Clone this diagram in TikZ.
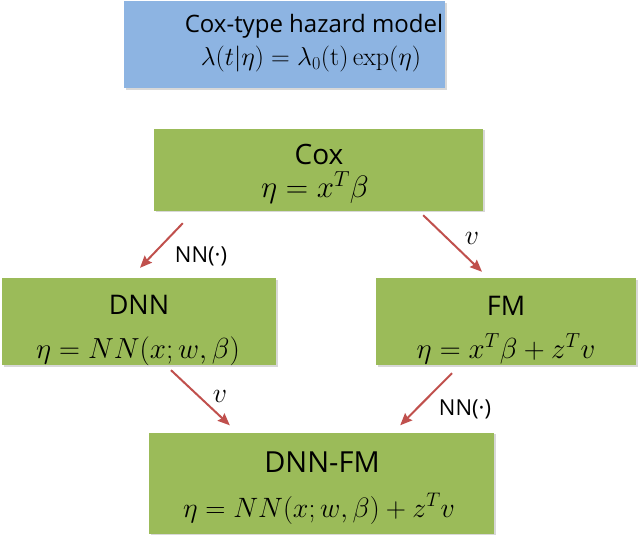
\RequirePackage{fix-cm}
\documentclass[tikz,border=0pt]{standalone}
\usepackage[no-math]{fontspec}
\setmainfont{Open Sans}
\usetikzlibrary{arrows.meta,calc,shadows}
\definecolor{boxblue}{HTML}{8DB4E2}
\definecolor{boxgreen}{HTML}{9BBB59}
\definecolor{arrred}{HTML}{C0504D}
\tikzset{
  box/.style={rectangle, inner sep=0pt,
    drop shadow={shadow xshift=1.5pt, shadow yshift=-1.5pt, fill=black!30, opacity=0.5}},
  bluebox/.style={box, fill=boxblue},
  greenbox/.style={box, fill=boxgreen},
  txt/.style={inner sep=0pt, anchor=base, text=black},
  arr/.style={draw=arrred, line width=2pt, -{Stealth[length=12pt,width=10pt,inset=1.5pt]}},
}
\begin{document}
\begin{tikzpicture}[x=1pt,y=-1pt]
\useasboundingbox (0,0) rectangle (640,540);
% boxes
\node[bluebox, minimum width=321pt, minimum height=87pt] (top) at (284.5,45) {};
\node[greenbox, minimum width=329pt, minimum height=82pt] (cox) at (318.5,170) {};
\node[greenbox, minimum width=274pt, minimum height=87pt] (dnn) at (139,321.5) {};
\node[greenbox, minimum width=260pt, minimum height=87pt] (fm) at (506,321.5) {};
\node[greenbox, minimum width=345pt, minimum height=101pt] (dnnfm) at (321.5,483) {};
% texts
\node[txt, font=\fontsize{24}{28}\selectfont] (toptitle) at (314,33) {Cox-type hazard model};
\node[txt, font=\fontsize{26}{30}\selectfont] (topformula) at (311,66) {$\lambda(t|\eta)=\lambda_0(\mathrm{t})\exp(\eta)$};
\node[txt, font=\fontsize{28}{32}\selectfont] (coxtitle) at (319,165) {Cox};
\node[txt, font=\fontsize{31}{35}\selectfont] (coxformula) at (315,198) {$\eta=x^T\beta$};
\node[txt, font=\fontsize{27}{32}\selectfont] (dnntitle) at (139,314) {DNN};
\node[txt, font=\fontsize{29}{34}\selectfont] (dnnformula) at (138,358) {$\eta=NN(x;w,\beta)$};
\node[txt, font=\fontsize{27}{32}\selectfont] (fmtitle) at (506,315) {FM};
\node[txt, font=\fontsize{29}{34}\selectfont] (fmformula) at (506,358) {$\eta=x^T\beta+z^Tv$};
\node[txt, font=\fontsize{29}{34}\selectfont] (dnnfmtitle) at (322,472) {DNN-FM};
\node[txt, font=\fontsize{28}{33}\selectfont] (dnnfmformula) at (319,517) {$\eta=NN(x;w,\beta)+z^Tv$};
% connectors
\draw[arr] ([xshift=29pt,yshift=-12pt]cox.south west) -- ([xshift=1pt,yshift=10pt]dnn.north);
\draw[arr] ([xshift=-60pt,yshift=-4pt]cox.south east) -- ([xshift=-24pt,yshift=6pt]fm.north);
\draw[arr] ([xshift=32pt,yshift=-5pt]dnn.south) -- ([xshift=81pt,yshift=7pt]dnnfm.north west);
\draw[arr] ([xshift=-54pt,yshift=-8pt]fm.south) -- ([xshift=-94pt,yshift=7pt]dnnfm.north east);
% labels
\node[txt, font=\fontsize{22}{26}\selectfont] (l1) at (201,262) {NN(·)};
\node[txt, font=\fontsize{28}{32}\selectfont] (l2) at (472,245) {$v$};
\node[txt, font=\fontsize{28}{32}\selectfont] (l3) at (220,402) {$v$};
\node[txt, font=\fontsize{22}{26}\selectfont] (l4) at (465,415) {NN(·)};
\end{tikzpicture}
\end{document}
